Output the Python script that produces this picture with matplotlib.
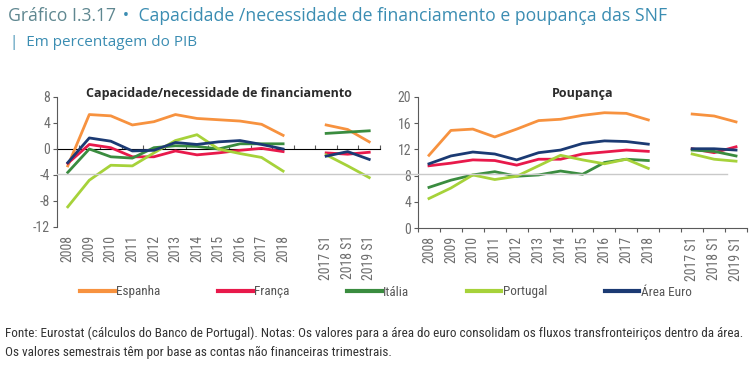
import numpy as np
import matplotlib
matplotlib.use("Agg")
import matplotlib.pyplot as plt
from matplotlib.font_manager import fontManager, FontProperties
from matplotlib.lines import Line2D

# categories: 11 years, one empty slot, 3 half-years
categories = ["2008", "2009", "2010", "2011", "2012", "2013", "2014", "2015",
              "2016", "2017", "2018", "", "2017 S1", "2018 S1", "2019 S1"]
series_names = ["Espanha", "França", "Itália", "Portugal", "Área Euro"]
nan = np.nan

# Capacidade/necessidade de financiamento (% PIB)
cap_espanha = [-2.6, 5.3, 5.1, 3.7, 4.2, 5.3, 4.7, 4.5, 4.3, 3.8, 2.1, nan, 3.7, 3.0, 1.1]
cap_franca = [-2.2, 0.7, 0.2, -1.2, -1.2, -0.3, -0.9, -0.6, -0.2, 0.1, -0.4, nan, -0.6, -0.8, -0.5]
cap_italia = [-3.6, 0.0, -1.2, -1.4, 0.2, 0.5, 0.4, 0.0, 0.8, 0.8, 0.8, nan, 2.4, 2.6, 2.8]
cap_portugal = [-8.9, -4.8, -2.5, -2.6, -0.6, 1.3, 2.2, 0.0, -0.7, -1.3, -3.4, nan, -0.9, -2.6, -4.4]
cap_euro = [-2.1, 1.7, 1.2, -0.3, -0.2, 1.0, 0.7, 1.1, 1.3, 0.7, 0.0, nan, -1.1, -0.4, -1.6]

# Poupança (% PIB)
pou_espanha = [11.1, 14.9, 15.1, 13.9, 15.1, 16.4, 16.6, 17.2, 17.6, 17.5, 16.5, nan, 17.4, 17.1, 16.2]
pou_franca = [9.5, 9.9, 10.4, 10.3, 9.6, 10.5, 10.5, 11.3, 11.6, 11.9, 11.7, nan, 12.1, 11.5, 12.4]
pou_italia = [6.2, 7.3, 8.1, 8.6, 7.9, 8.1, 8.7, 8.2, 10.0, 10.5, 10.3, nan, 11.9, 11.7, 11.0]
pou_portugal = [4.5, 6.1, 8.1, 7.4, 7.9, 9.5, 11.1, 10.4, 9.8, 10.5, 9.1, nan, 11.3, 10.5, 10.2]
pou_euro = [9.8, 11.0, 11.6, 11.3, 10.4, 11.5, 11.9, 12.9, 13.3, 13.2, 12.8, nan, 12.1, 12.1, 11.9]

colors = ["#F7923F", "#E8194B", "#3A8C3F", "#A6D23A", "#1B3A73"]

plt.rcParams["font.family"] = ["Open Sans", "DejaVu Sans"]


def find_narrow():
    # look for an installed condensed / narrow regular face
    best = None
    for f in fontManager.ttflist:
        st = str(f.stretch).lower()
        is_narrow = ("condensed" in st or "narrow" in f.name.lower()
                     or "condensed" in f.name.lower()
                     or (st.isdigit() and int(st) < 500))
        if not is_narrow or f.style != "normal":
            continue
        w = f.weight if isinstance(f.weight, int) else (400 if f.weight == "normal" else 700)
        if w not in (400, "normal"):
            continue
        best = f.fname
        if "Liberation" in f.name or "Roboto" in f.name or "Open" in f.name:
            break
    return best


narrow_file = find_narrow()


def nfont(size):
    if narrow_file:
        return FontProperties(fname=narrow_file, size=size)
    return FontProperties(family="Liberation Sans", size=size * 0.88)


tick_gray = "#6e6e6e"
axis_col = "#5a5a5a"


def style_axis(ax, ylim, yticks, zero_frac):
    x = np.arange(len(categories))
    ax.set_xlim(-0.5, len(categories) - 0.5)
    ax.set_ylim(*ylim)
    ax.set_yticks(yticks)
    ax.set_yticklabels([str(v) for v in yticks], fontproperties=nfont(10), color=tick_gray)
    ax.set_xticks(x)
    ax.set_xticklabels(categories, rotation=90, fontproperties=nfont(10), color=tick_gray)
    ax.tick_params(axis="x", length=0, pad=6)
    ax.tick_params(axis="y", length=3, width=0.8, color=axis_col, pad=2)
    for side in ["top", "right", "bottom"]:
        ax.spines[side].set_visible(False)
    ax.spines["left"].set_color(axis_col)
    ax.spines["left"].set_linewidth(0.8)
    sec = ax.secondary_xaxis(zero_frac)
    sec.set_xticks(np.arange(-0.5, len(categories), 1.0))
    sec.set_xticklabels([])
    sec.tick_params(length=3, width=0.8, color=axis_col, direction="out")
    sec.spines["bottom"].set_color(axis_col)
    sec.spines["bottom"].set_linewidth(0.8)
    return x


fig = plt.figure(figsize=(7.56, 3.66), dpi=100)
ax1 = fig.add_axes([57 / 756, 1 - 227 / 366, 323 / 756, 130 / 366])
ax2 = fig.add_axes([418 / 756, 1 - 228 / 366, 329 / 756, 131 / 366])

x1 = style_axis(ax1, (-12, 8), [-12, -8, -4, 0, 4, 8], 0.6)
x2 = style_axis(ax2, (0, 20), [0, 4, 8, 12, 16, 20], 0.0)

cap_series = [cap_espanha, cap_franca, cap_italia, cap_portugal, cap_euro]
pou_series = [pou_espanha, pou_franca, pou_italia, pou_portugal, pou_euro]
order = [2, 3, 0, 1, 4]
for i in order:
    ax1.plot(x1, cap_series[i], color=colors[i], lw=2.0, solid_joinstyle="round", zorder=3 + i)
    ax2.plot(x2, pou_series[i], color=colors[i], lw=2.0, solid_joinstyle="round", zorder=3 + i)

ax1.text(0.5, 1.025, "Capacidade/necessidade de financiamento", transform=ax1.transAxes,
         ha="center", va="center", fontsize=9, fontweight="bold", color="#2b2b2b")
ax2.text(0.5, 1.025, "Poupança", transform=ax2.transAxes,
         ha="center", va="center", fontsize=9, fontweight="bold", color="#2b2b2b")

# light separator line across both panels
fig.add_artist(Line2D([57 / 756, 727 / 756], [1 - 174 / 366] * 2, color="#c9c9c9", lw=1.0))

# header
t1 = fig.text(8 / 756, 1 - 16 / 366, "Gráfico I.3.17", fontsize=12.7, color="#5f8790", va="center")
fig.canvas.draw()
bb = t1.get_window_extent()
fig.text(bb.x1 / 756 + 0.003, 1 - 16 / 366,
         " •  Capacidade /necessidade de financiamento e poupança das SNF",
         fontsize=12.7, color="#3b8db2", va="center")
fig.text(10 / 756, 1 - 42 / 366, "|  Em percentagem do PIB", fontsize=11, color="#3b8db2", va="center")

handles = [Line2D([], [], color=c, lw=3) for c in colors]
fig.legend(handles, series_names, loc="center", bbox_to_anchor=(386 / 756, 1 - 292 / 366),
           ncol=5, frameon=False, handlelength=2.6, handletextpad=0.1, columnspacing=4.4,
           prop=nfont(9.5), labelcolor="#555555")

fig.text(5 / 756, 1 - 333 / 366,
         "Fonte: Eurostat (cálculos do Banco de Portugal). Notas: Os valores para a área do euro "
         "consolidam os fluxos transfronteiriços dentro da área.",
         fontproperties=nfont(9.5), color="#333333", va="center")
fig.text(5 / 756, 1 - 352 / 366,
         "Os valores semestrais têm por base as contas não financeiras trimestrais.",
         fontproperties=nfont(9.5), color="#333333", va="center")

fig.savefig("out.png", dpi=100)
